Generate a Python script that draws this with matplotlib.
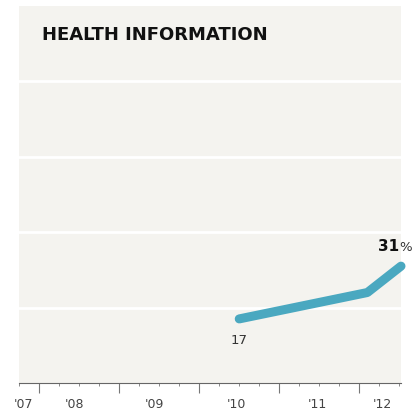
import numpy as np
import matplotlib.pyplot as plt

# data
years = [2010.5, 2012.1, 2012.52]
share = [17, 24, 31]
tick_labels = ["'07", "'08", "'09", "'10", "'11", "'12"]
label_pos = [2007.81, 2008.44, 2009.44, 2010.47, 2011.47, 2012.29]
grid_vals = [20, 40, 60, 80]

fig = plt.figure(figsize=(4.17, 4.13), dpi=100)
ax = fig.add_axes([19/417, 1 - 383/413, 382/417, 377/413])
ax.set_facecolor('#f4f3ef')

for g in grid_vals:
    ax.axhline(g, color='white', lw=2, zorder=1)

ax.plot(years, share, color='#4aa8c0', lw=6.5, solid_capstyle='round',
        solid_joinstyle='round', zorder=3, clip_on=False)

ax.set_xlim(2007.75, 2012.52)
ax.set_ylim(0, 100)

for s in ['top', 'right', 'left']:
    ax.spines[s].set_visible(False)
ax.spines['bottom'].set_color('#666666')
ax.spines['bottom'].set_linewidth(0.8)

ax.set_yticks([])
ax.set_xticks([2008, 2009, 2010, 2011, 2012])
ax.set_xticks(np.arange(2007.75, 2012.6, 0.25), minor=True)
ax.tick_params(axis='x', which='major', length=7, width=0.8, color='#777777',
               labelbottom=False)
ax.tick_params(axis='x', which='minor', length=2, width=0.6, color='#777777')

# year labels sit at mid-year, just under the axis
for lab, p in zip(tick_labels, label_pos):
    ax.text(p, -21 / 377, lab, ha='center', va='center', fontsize=9,
            color='#444444', transform=ax.get_xaxis_transform(), clip_on=False)

fig.text(42/417, 1 - 35/413, 'HEALTH INFORMATION', fontsize=13,
         fontweight='bold', color='#111111', va='center', ha='left')

ax.text(years[0], share[0] - 4, '17', ha='center', va='top', fontsize=9.5,
        color='#333333')
ax.annotate('31', xy=(years[-1], share[-1]), xytext=(-1, 9),
            textcoords='offset points', ha='right', va='bottom',
            fontsize=11, fontweight='bold', color='#111111',
            annotation_clip=False)
ax.annotate('%', xy=(years[-1], share[-1]), xytext=(-1, 9),
            textcoords='offset points', ha='left', va='bottom',
            fontsize=9.5, color='#333333', annotation_clip=False)

fig.savefig('out.png', dpi=100)
